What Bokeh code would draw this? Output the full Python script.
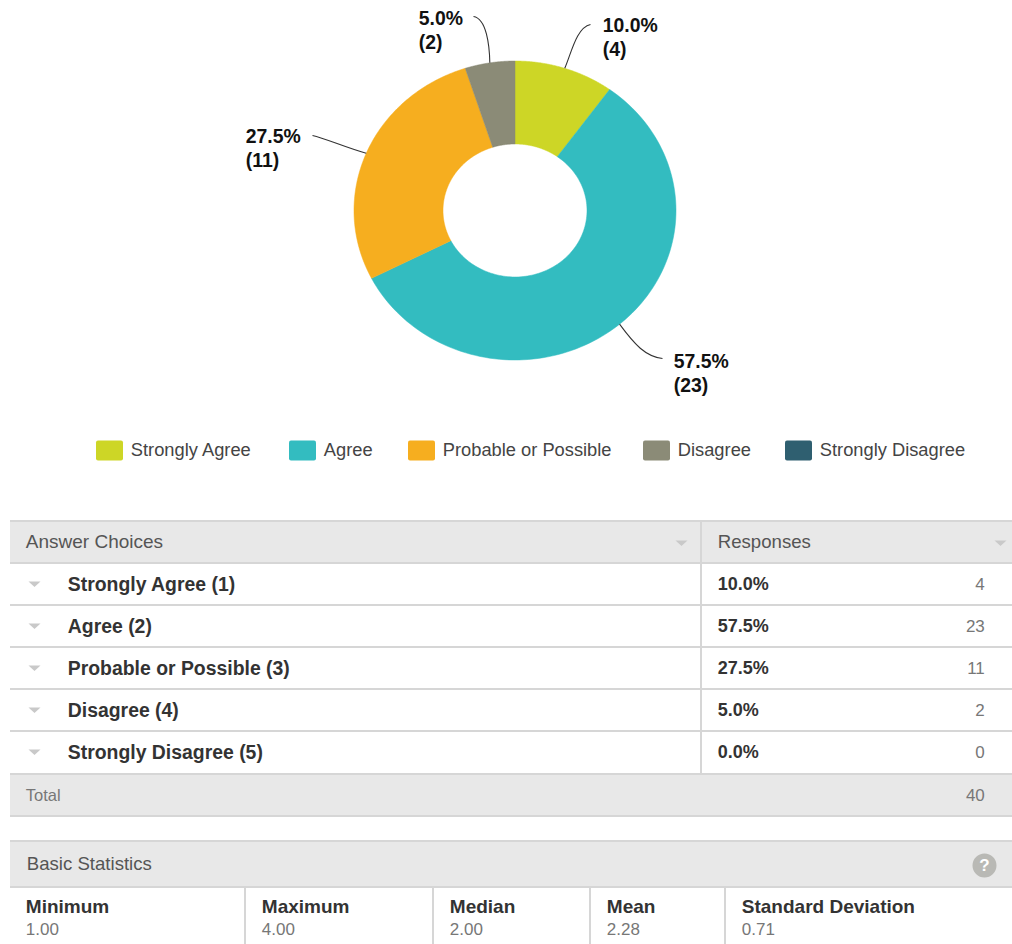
import numpy as np
from bokeh.plotting import figure
from bokeh.models import Range1d
from bokeh.core.properties import value
from bokeh.embed import file_html
from bokeh.resources import INLINE

choices = ["Strongly Agree", "Agree", "Probable or Possible", "Disagree", "Strongly Disagree"]
counts = [4, 23, 11, 2, 0]
percents = [10.0, 57.5, 27.5, 5.0, 0.0]
colors = ["#cdd626", "#33bcc0", "#f6ae1f", "#8b8b77", "#2f5f70"]
total = 40
stat_names = ["Minimum", "Maximum", "Median", "Mean", "Standard Deviation"]
stat_values = ["1.00", "4.00", "2.00", "2.28", "0.71"]

FONT = value("Liberation Sans")
BAND = "#e8e8e8"
RULE = "#d6d6d6"
TRI = "#c9c9c9"

p = figure(x_range=Range1d(0, 1012), y_range=Range1d(944, 0), width=1012, height=944,
           x_axis_type=None, y_axis_type=None, toolbar_location=None,
           output_backend="svg", min_border=0, outline_line_color=None,
           background_fill_color="white", border_fill_color="white")
p.grid.visible = False


def put(x, y, t, size, color, bold=False, align="left"):
    p.text([x - 0.7], [y - 1], text=[t], text_font=FONT, text_font_size=f"{size}px",
           text_font_style="bold" if bold else "normal", text_color=color,
           text_align=align, text_baseline="middle")


# Donut (horizontally stretched in the source, so drawn as elliptical patches)
cx, cy, rx, ry = 514.5, 210, 161, 149.5
irx, iry = 72, 66.5
cum = np.concatenate([[0], np.cumsum(counts)]) / total * 2 * np.pi
for i, c in enumerate(counts):
    if c == 0:
        continue
    t = np.linspace(cum[i], cum[i + 1], 120)
    xs = np.concatenate([cx + rx * np.sin(t), cx + irx * np.sin(t[::-1])])
    ys = np.concatenate([cy - ry * np.cos(t), cy - iry * np.cos(t[::-1])])
    p.patch(xs, ys, fill_color=colors[i], line_color=colors[i], line_width=0.5)

# Leader lines and slice labels
label_pos = [(603, 25), (674, 361), (246, 136), (419, 18)]
leader_end = [(590, 24), (662, 358), (312, 135), (473, 16)]
leader_c0 = [(571, 52), (634, 344), (345, 147), (489, 45)]
leader_c1 = [(576, 27), (645, 356), (325, 138), (486, 18)]
for i, c in enumerate(counts):
    if c == 0:
        continue
    a = (cum[i] + cum[i + 1]) / 2
    p.bezier([cx + rx * np.sin(a)], [cy - ry * np.cos(a)], [leader_end[i][0]], [leader_end[i][1]],
             [leader_c0[i][0]], [leader_c0[i][1]], [leader_c1[i][0]], [leader_c1[i][1]],
             line_color="#333333", line_width=1.1)
    lx, ly = label_pos[i]
    put(lx, ly, f"{percents[i]:.1f}%", 19.4, "#111111", True)
    put(lx, ly + 24, f"({c})", 19.4, "#111111", True)

# Legend
swatch_x = [96, 289, 408, 643, 785]
for sx, name, col in zip(swatch_x, choices, colors):
    p.quad(left=[sx - 0.5], right=[sx + 26.5], top=[440], bottom=[460], fill_color=col, line_color=None,
           border_radius=2)
    put(sx + 35, 450, name, 18.3, "#444444")

# Table bands
p.quad(left=[9.5, 9.5, 9.5], right=[1012, 1012, 1012], top=[521, 774, 841], bottom=[563, 816, 887],
       fill_color=BAND, line_color=None)
rows_y = [520.5, 562.5, 604.5, 646.5, 688.5, 730.5, 773.5, 815.5, 840.5, 886.5]
for y in rows_y:
    p.line([9.5, 1012], [y, y], line_color=RULE, line_width=2)
p.line([700.5, 700.5], [521, 774], line_color=RULE, line_width=2)
for x in [244.5, 432.5, 589.5, 724.5]:
    p.line([x, x], [887, 944], line_color=RULE, line_width=2)


def tri(x, y):
    p.patch([x - 6, x + 6, x], [y - 3, y - 3, y + 2.5], fill_color=TRI, line_color=None)


put(26, 542, "Answer Choices", 19, "#555555")
put(718, 542, "Responses", 18.6, "#555555")
tri(681, 543)
tri(1000, 543)
row_centers = [584, 626, 668, 710, 752]
for yc, name, c, pc in zip(row_centers, choices, counts, percents):
    tri(34, yc)
    put(68, yc, f"{name} ({choices.index(name) + 1})", 19.4, "#333333", True)
    put(718, yc, f"{pc:.1f}%", 18, "#333333", True)
    put(985, yc, str(c), 17, "#777777", align="right")
put(26, 795, "Total", 16.5, "#777777")
put(985, 795, str(total), 17, "#777777", align="right")

# Basic statistics
put(27, 864, "Basic Statistics", 18.6, "#555555")
p.scatter([984], [865], size=24, fill_color="#b9b9b5", line_color=None)
put(984.7, 866, "?", 17, "white", True, align="center")
stat_x = [26, 262, 450, 607, 742]
for x, n, v in zip(stat_x, stat_names, stat_values):
    put(x, 907, n, 19, "#333333", True)
    put(x, 929, v, 17, "#777777")

open("out.html", "w").write(file_html(p, INLINE))
